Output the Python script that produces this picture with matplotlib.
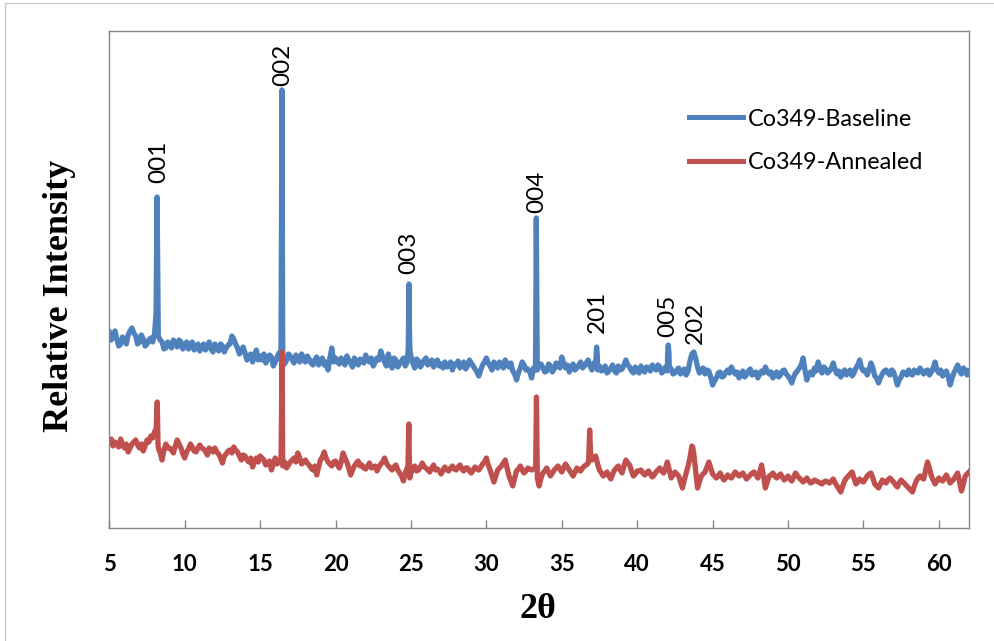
import numpy as np
import matplotlib
matplotlib.use("Agg")
import matplotlib.pyplot as plt
from matplotlib.patches import Rectangle

# ---------------- data (relative intensity, arbitrary units) ----------------
grid_start = 5.0
grid_step = 0.25

# readings at 5.00, 5.25, 5.50, ... 62.00
baseline_noise = [
    196, 192, 189, 184,   # 5
    188, 193, 200, 192,   # 6
    186, 189, 184, 190,   # 7
    194, 192, 186, 180,   # 8
    184, 188, 181, 186,   # 9
    183, 179, 186, 181,   # 10
    177, 184, 182, 179,   # 11
    184, 177, 182, 180,   # 12
    184, 189, 180, 177,   # 13
    175, 170, 166, 178,   # 14
    172, 174, 169, 171,   # 15
    166, 175, 170, 168,   # 16
    172, 165, 170, 174,   # 17
    166, 169, 163, 171,   # 18
    167, 163, 158, 180,   # 19
    170, 164, 168, 172,   # 20
    165, 170, 163, 167,   # 21
    173, 166, 162, 170,   # 22
    177, 166, 174, 160,   # 23
    168, 164, 170, 166,   # 24
    172, 160, 167, 164,   # 25
    170, 165, 161, 168,   # 26
    164, 166, 162, 158,   # 27
    163, 160, 166, 162,   # 28
    165, 159, 152, 163,   # 29
    170, 162, 166, 160,   # 30
    164, 168, 161, 157,   # 31
    148, 160, 163, 159,   # 32
    150, 158, 163, 160,   # 33
    157, 162, 159, 163,   # 34
    171, 160, 156, 164,   # 35
    160, 166, 162, 168,   # 36
    158, 163, 162, 158,   # 37
    155, 160, 157, 162,   # 38
    159, 168, 161, 155,   # 39
    158, 162, 156, 160,   # 40
    163, 158, 161, 157,   # 41
    157, 159, 155, 160,   # 42
    157, 153, 167, 176,   # 43
    161, 158, 154, 157,   # 44
    143, 150, 156, 152,   # 45
    158, 161, 154, 150,   # 46
    157, 153, 159, 155,   # 47
    150, 157, 161, 154,   # 48
    150, 156, 153, 158,   # 49
    152, 145, 155, 160,   # 50
    170, 148, 156, 160,   # 51
    166, 155, 159, 157,   # 52
    165, 154, 151, 158,   # 53
    156, 152, 160, 168,   # 54
    157, 153, 165, 152,   # 55
    145, 154, 158, 153,   # 56
    156, 143, 151, 155,   # 57
    158, 153, 156, 160,   # 58
    154, 158, 156, 166,   # 59
    155, 152, 157, 143,   # 60
    155, 163, 154, 158,   # 61
    157,                  # 62
]
# readings at 5.125, 5.375, ... 61.875
baseline_mid = [
    188, 197, 182, 191,   # 5
    184, 197, 195, 184,   # 6
    193, 182, 188, 186,   # 7
    255, 188, 179, 186,   # 8
    180, 185, 188, 179,   # 9
    186, 183, 178, 184,   # 10
    181, 178, 186, 176,   # 11
    181, 184, 176, 183,   # 12
    192, 184, 174, 181,   # 13
    168, 174, 172, 168,   # 14
    168, 165, 173, 162,   # 15
    171, 168, 164, 174,   # 16
    168, 173, 166, 169,   # 17
    172, 165, 168, 163,   # 18
    170, 166, 170, 166,   # 19
    166, 170, 163, 168,   # 20
    161, 166, 169, 165,   # 21
    168, 170, 166, 168,   # 22
    171, 162, 166, 170,   # 23
    161, 167, 162, 215,   # 24
    165, 169, 161, 168,   # 25
    163, 168, 166, 162,   # 26
    160, 161, 166, 164,   # 27
    167, 163, 159, 168,   # 28
    162, 156, 158, 166,   # 29
    165, 158, 163, 166,   # 30
    160, 164, 165, 154,   # 31
    155, 166, 158, 156,   # 32
    160, 158, 164, 156,   # 33
    164, 156, 165, 160,   # 34
    165, 163, 160, 158,   # 35
    163, 160, 165, 162,   # 36
    165, 158, 157, 162,   # 37
    157, 163, 155, 158,   # 38
    163, 163, 157, 161,   # 39
    155, 158, 161, 157,   # 40
    160, 163, 155, 161,   # 41
    162, 154, 158, 154,   # 42
    159, 157, 174, 170,   # 43
    155, 160, 158, 151,   # 44
    147, 155, 151, 156,   # 45
    155, 157, 156, 154,   # 46
    151, 157, 153, 156,   # 47
    154, 155, 157, 156,   # 48
    154, 151, 157, 154,   # 49
    149, 151, 157, 163,   # 50
    158, 154, 153, 157,   # 51
    160, 161, 155, 160,   # 52
    158, 157, 155, 153,   # 53
    158, 155, 163, 160,   # 54
    158, 158, 160, 150,   # 55
    150, 157, 155, 158,   # 56
    150, 148, 156, 153,   # 57
    154, 158, 155, 157,   # 58
    157, 153, 160, 158,   # 59
    158, 155, 151, 150,   # 60
    159, 157, 160, 153,   # 61
]
baseline_peak_x = [8.10, 8.17, 8.24, 16.39, 16.45, 16.49, 24.82, 24.87, 24.93,
                   33.27, 33.31, 33.36, 37.27, 37.31, 37.36, 42.02, 42.06, 42.11]
baseline_peak_y = [215, 331, 210, 200, 438, 205, 180, 244, 178,
                   185, 310, 185, 170, 181, 172, 175, 183, 174]

annealed_noise = [
    86, 82, 84, 89,   # 5
    80, 76, 84, 88,   # 6
    80, 77, 88, 92,   # 7
    96, 80, 68, 84,   # 8
    80, 75, 88, 80,   # 9
    70, 79, 81, 76,   # 10
    83, 79, 73, 78,   # 11
    80, 74, 65, 74,   # 12
    78, 81, 76, 68,   # 13
    72, 66, 61, 70,   # 14
    72, 68, 64, 58,   # 15
    70, 66, 62, 60,   # 16
    66, 70, 75, 64,   # 17
    68, 63, 58, 53,   # 18
    68, 76, 66, 62,   # 19
    67, 60, 75, 66,   # 20
    53, 62, 67, 63,   # 21
    59, 65, 61, 57,   # 22
    64, 70, 62, 58,   # 23
    63, 55, 47, 60,   # 24
    55, 62, 58, 65,   # 25
    60, 56, 63, 59,   # 26
    54, 61, 57, 62,   # 27
    58, 63, 57, 60,   # 28
    55, 61, 58, 64,   # 29
    70, 58, 46, 58,   # 30
    62, 68, 52, 42,   # 31
    57, 62, 55, 60,   # 32
    58, 60, 42, 55,   # 33
    60, 52, 58, 62,   # 34
    56, 64, 58, 52,   # 35
    60, 57, 62, 65,   # 36
    68, 72, 58, 52,   # 37
    56, 49, 58, 62,   # 38
    55, 68, 63, 52,   # 39
    57, 58, 53, 57,   # 40
    51, 56, 60, 55,   # 41
    66, 50, 56, 52,   # 42
    40, 55, 70, 75,   # 43
    40, 52, 56, 66,   # 44
    54, 50, 55, 48,   # 45
    53, 50, 56, 52,   # 46
    55, 49, 53, 56,   # 47
    50, 63, 40, 52,   # 48
    55, 50, 54, 48,   # 49
    52, 47, 55, 50,   # 50
    46, 50, 45, 48,   # 51
    46, 44, 47, 45,   # 52
    49, 42, 36, 47,   # 53
    52, 56, 44, 49,   # 54
    46, 52, 55, 44,   # 55
    40, 48, 45, 50,   # 56
    46, 41, 48, 44,   # 57
    40, 36, 47, 52,   # 58
    49, 66, 52, 44,   # 59
    50, 47, 53, 45,   # 60
    49, 55, 37, 52,   # 61
    56,               # 62
]
annealed_mid = [
    89, 86, 81, 84,   # 5
    84, 80, 86, 83,   # 6
    84, 82, 86, 90,   # 7
    108, 75, 78, 80,  # 8
    78, 82, 84, 74,   # 9
    76, 84, 77, 80,   # 10
    80, 77, 80, 76,   # 11
    76, 70, 72, 77,   # 12
    75, 78, 72, 73,   # 13
    68, 70, 66, 66,   # 14
    70, 63, 67, 64,   # 15
    64, 70, 66, 63,   # 16
    68, 66, 70, 66,   # 17
    65, 60, 62, 61,   # 18
    71, 70, 64, 66,   # 19
    63, 66, 70, 60,   # 20
    58, 65, 62, 60,   # 21
    62, 60, 62, 61,   # 22
    66, 65, 60, 61,   # 23
    58, 52, 55, 85,   # 24
    59, 57, 61, 61,   # 25
    58, 60, 58, 57,   # 26
    58, 58, 60, 59,   # 27
    61, 59, 60, 57,   # 28
    58, 59, 61, 66,   # 29
    63, 52, 52, 60,   # 30
    65, 60, 47, 50,   # 31
    59, 58, 57, 59,   # 32
    59, 62, 50, 57,   # 33
    56, 55, 60, 59,   # 34
    60, 61, 55, 56,   # 35
    58, 60, 63, 88,   # 36
    70, 64, 55, 54,   # 37
    52, 54, 60, 58,   # 38
    62, 65, 57, 54,   # 39
    57, 55, 55, 54,   # 40
    53, 58, 57, 60,   # 41
    58, 53, 54, 46,   # 42
    48, 62, 82, 58,   # 43
    46, 54, 61, 60,   # 44
    52, 52, 51, 50,   # 45
    51, 53, 54, 53,   # 46
    52, 51, 55, 53,   # 47
    56, 52, 46, 53,   # 48
    52, 52, 51, 50,   # 49
    49, 51, 52, 48,   # 50
    48, 47, 46, 47,   # 51
    45, 46, 46, 47,   # 52
    45, 39, 42, 50,   # 53
    54, 50, 46, 47,   # 54
    49, 54, 50, 42,   # 55
    44, 46, 48, 48,   # 56
    43, 45, 46, 42,   # 57
    38, 42, 50, 50,   # 58
    58, 60, 48, 47,   # 59
    48, 50, 49, 47,   # 60
    52, 46, 44, 54,   # 61
]
annealed_peak_x = [8.12, 8.18, 8.23, 16.39, 16.46, 16.49, 24.80, 24.86, 24.92,
                   33.27, 33.32, 33.38, 36.78, 36.85, 36.92, 43.60, 43.68]
annealed_peak_y = [100, 126, 85, 75, 176, 80, 62, 104, 50,
                   62, 131, 50, 68, 98, 72, 80, 81]

peak_labels = ["001", "002", "003", "004", "201", "005", "202"]
peak_label_x = [8.29, 16.5, 24.85, 33.32, 37.36, 42.0, 43.89]
peak_label_y = [345, 442, 254, 315, 195, 191, 184]

series_names = ["Co349-Baseline", "Co349-Annealed"]
xticks = [5, 10, 15, 20, 25, 30, 35, 40, 45, 50, 55, 60]


def build(noise, mid, px, py):
    gx = grid_start + grid_step * np.arange(len(noise))
    mx = grid_start + grid_step / 2 + grid_step * np.arange(len(mid))
    x = np.concatenate([gx, mx, np.array(px, float)])
    y = np.concatenate([np.array(noise, float), np.array(mid, float),
                        np.array(py, float)])
    order = np.argsort(x, kind="mergesort")
    return x[order], y[order]


bx, by = build(baseline_noise, baseline_mid, baseline_peak_x, baseline_peak_y)
rx, ry = build(annealed_noise, annealed_mid, annealed_peak_x, annealed_peak_y)

# ---------------- figure ----------------
W, H = 995, 641
fig = plt.figure(figsize=(W / 100, H / 100), dpi=100)
fig.patch.set_facecolor("white")

# outer light border
fig.patches.append(Rectangle((5 / W, -0.2), 1.5, 1.2 - 2.7 / H,
                             transform=fig.transFigure, fill=False,
                             edgecolor="#c8c8c8", linewidth=1.0))

L, R, B, T = 109.3, 969, 528, 31
ax = fig.add_axes([L / W, 1 - B / H, (R - L) / W, (B - T) / H])

blue = "#4F81BD"
red = "#C0504D"
ax.plot(bx, by, color=blue, lw=3.8, solid_joinstyle="round", label=series_names[0])
ax.plot(rx, ry, color=red, lw=3.8, solid_joinstyle="round", label=series_names[1])

ax.set_xlim(5, 62)
ax.set_ylim(0, B - T)

for s in ax.spines.values():
    s.set_color("#868686")
    s.set_linewidth(1.0)

ax.set_yticks([])
ax.set_xticks(xticks)
ax.set_xticklabels([str(t) for t in xticks])
ax.tick_params(axis="x", direction="in", length=6, width=1.0, color="#868686",
               pad=19)
for lab in ax.get_xticklabels():
    lab.set_fontfamily("Lato")
    lab.set_fontweight("bold")
    lab.set_fontsize(16)
    lab.set_color("black")

# peak labels
for t, x, y in zip(peak_labels, peak_label_x, peak_label_y):
    ax.text(x, y, t, rotation=90, ha="center", va="bottom",
            fontsize=17.5, family="Lato", color="black")

# axis labels
ax.set_xlabel("2θ", family="Liberation Serif", fontweight="bold", fontsize=26)
ax.xaxis.set_label_coords((538 - L) / (R - L), -(609 - B) / (B - T))
ax.xaxis.label.set_va("center")
ax.set_ylabel("Relative Intensity", family="Liberation Serif",
              fontweight="bold", fontsize=26)
ax.yaxis.set_label_coords((60 - L) / (R - L), (B - 296) / (B - T))
ax.yaxis.label.set_va("center")

# legend
leg = ax.legend(loc="upper left", bbox_to_anchor=(689 / W, 1 - 108.5 / H),
                bbox_transform=fig.transFigure, frameon=False,
                prop={"family": "Lato", "size": 16.8}, handlelength=2.32,
                handletextpad=0.2, labelspacing=0.95, borderpad=0,
                borderaxespad=0)
for line in leg.get_lines():
    line.set_linewidth(3.6)

fig.savefig("out.png", dpi=100, facecolor="white")
